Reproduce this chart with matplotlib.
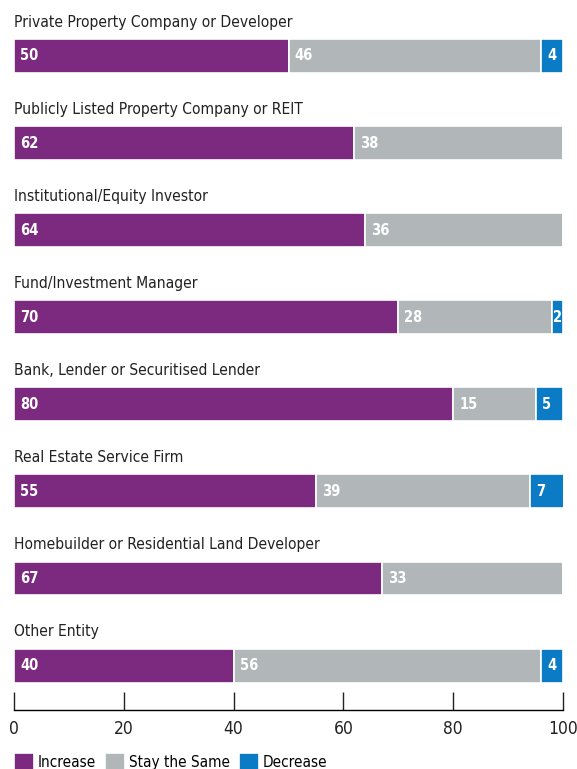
import matplotlib.pyplot as plt
import numpy as np

categories = [
    "Private Property Company or Developer",
    "Publicly Listed Property Company or REIT",
    "Institutional/Equity Investor",
    "Fund/Investment Manager",
    "Bank, Lender or Securitised Lender",
    "Real Estate Service Firm",
    "Homebuilder or Residential Land Developer",
    "Other Entity",
]
increase = [50, 62, 64, 70, 80, 55, 67, 40]
same = [46, 38, 36, 28, 15, 39, 33, 56]
decrease = [4, 0, 0, 2, 5, 7, 0, 4]
series_names = ["Increase", "Stay the Same", "Decrease"]
colors = ["#7b2a7f", "#b1b6b8", "#0a7bc4"]
ticks = [0, 20, 40, 60, 80, 100]

plt.rcParams["font.family"] = ["DejaVu Sans"]
plt.rcParams["font.stretch"] = "condensed"

fig = plt.figure(figsize=(5.77, 7.69), dpi=100)
ax = fig.add_axes([14 / 577, 59 / 769, 549 / 577, 710 / 769])

y = np.arange(len(categories))
bar_h = 0.39
left = np.zeros(len(categories))
for vals, name, col in zip([increase, same, decrease], series_names, colors):
    vals = np.array(vals)
    ax.barh(y, vals, left=left, height=bar_h, color=col, edgecolor="white",
            linewidth=1.2, label=name)
    for yi, l, v in zip(y, left, vals):
        if v <= 0:
            continue
        if v >= 5:
            ax.text(l + 1.1, yi, str(v), ha="left", va="center", color="white",
                    fontsize=10.5, fontweight="bold")
        else:
            ax.text(l + v / 2, yi, str(v), ha="center", va="center", color="white",
                    fontsize=10.5, fontweight="bold")
    left = left + vals

for yi, cat in zip(y, categories):
    ax.text(0, yi - 0.39, cat, ha="left", va="center", fontsize=11.2, color="#222222")

ax.set_xlim(0, 100)
ax.set_ylim(7.51, -0.643)
ax.set_xticks(ticks)
ax.set_yticks([])
for s in ["top", "right", "left"]:
    ax.spines[s].set_visible(False)
ax.spines["bottom"].set_linewidth(1.0)
ax.tick_params(axis="x", direction="in", length=13, width=1.0, pad=7,
               labelsize=12.5, colors="#222222")

fig.legend(loc="lower left", bbox_to_anchor=(0.014, -0.009), ncol=3, frameon=False,
           fontsize=11, handlelength=1.3, handleheight=1.3, handletextpad=0.25,
           columnspacing=0.6, borderaxespad=0.0)

fig.savefig("out.png", dpi=100)
